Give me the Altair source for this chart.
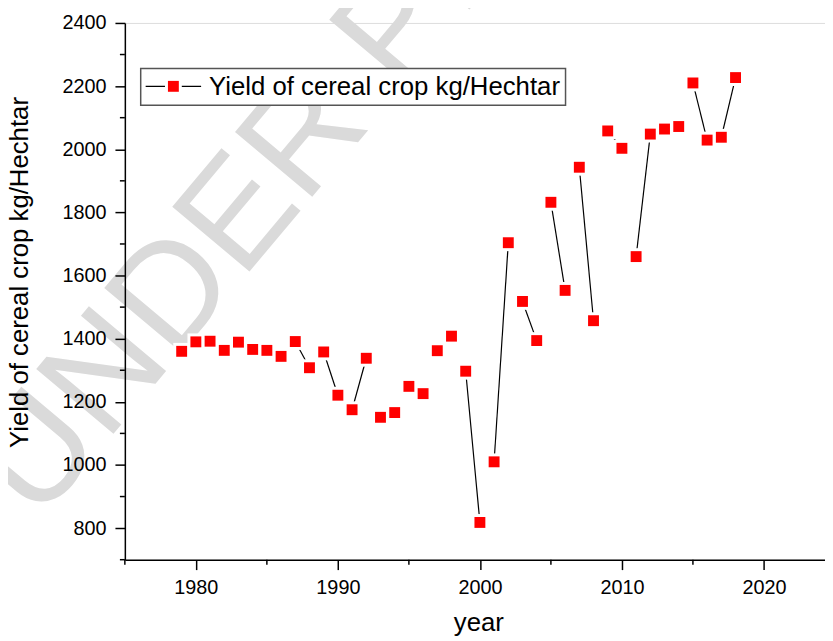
import altair as alt
import pandas as pd

years = list(range(1979, 2019))
yields = [1360, 1390, 1392, 1363, 1389, 1366, 1363, 1344, 1391, 1308,
          1358, 1221, 1175, 1338, 1151, 1166, 1249, 1226, 1362, 1408,
          1297, 818, 1010, 1704, 1518, 1394, 1832, 1553, 1943, 1457,
          2058, 2003, 1660, 2048, 2064, 2072, 2210, 2029, 2038, 2227]
# connecting segments join the points two by two (1979-1980, 1981-1982, ...)
segment = [(y - 1979) // 2 for y in years]

y_major = [800, 1000, 1200, 1400, 1600, 1800, 2000, 2200, 2400]
y_minor = [700, 900, 1100, 1300, 1500, 1700, 1900, 2100, 2300]
x_major = [1980, 1990, 2000, 2010, 2020]
x_minor = [1975, 1985, 1995, 2005, 2015]

series_name = "Yield of cereal crop kg/Hechtar"
watermark = "UNDER PEER REVIEW"

W, H = 707, 542
FONT = "Liberation Sans"

df = pd.DataFrame({"year": years, "yield": yields, "seg": segment})
xs = alt.Scale(domain=[1975, 2024.3], nice=False, zero=False)
ys = alt.Scale(domain=[700, 2400], nice=False, zero=False)

x_axis = alt.Axis(values=x_major, format="d", title="year", grid=False,
                  tickSize=10, tickWidth=1.5, tickColor="black",
                  domainColor="black", domainWidth=1.5,
                  labelFont=FONT, labelFontSize=20, labelColor="black", labelPadding=8,
                  titleFont=FONT, titleFontSize=26, titleFontWeight="normal", titleColor="black",
                  titleX=357, titleY=72, titleBaseline="alphabetic", zindex=1)
y_axis = alt.Axis(values=y_major, format="d", title=series_name, grid=False,
                  tickSize=10, tickWidth=1.5, tickColor="black",
                  domainColor="black", domainWidth=1.5,
                  labelFont=FONT, labelFontSize=20, labelColor="black", labelPadding=9,
                  titleFont=FONT, titleFontSize=26, titleFontWeight="normal", titleColor="black",
                  titleAngle=270, titleX=-98, titleY=251.5, titleAlign="center",
                  titleBaseline="alphabetic", zindex=1)

X = alt.X("year:Q", scale=xs, axis=x_axis)
Y = alt.Y("yield:Q", scale=ys, axis=y_axis)

one = pd.DataFrame({"k": [0]})

wm = alt.Chart(one).mark_text(text=watermark, font=FONT, fontSize=148,
                              color="#dadada", angle=310, align="left", baseline="alphabetic").encode(
    x=alt.value(-88), y=alt.value(506))

line = alt.Chart(df).mark_line(color="black", strokeWidth=1.2).encode(
    x=X, y=Y, detail="seg:N")
gaps = alt.Chart(df).mark_point(shape="square", filled=True, color="white", opacity=1, size=289).encode(x=X, y=Y)
pts = alt.Chart(df).mark_point(shape="square", filled=True, color="#ff0000", opacity=1, size=121).encode(x=X, y=Y)

ymin_df = pd.DataFrame({"yield": y_minor})
xmin_df = pd.DataFrame({"year": x_minor})
ymin = alt.Chart(ymin_df).mark_rule(color="black", strokeWidth=1.5).encode(
    y=Y, x=alt.value(-5), x2=alt.value(0))
xmin = alt.Chart(xmin_df).mark_rule(color="black", strokeWidth=1.5).encode(
    x=X, y=alt.value(H), y2=alt.value(H + 5))

leg_box = alt.Chart(one).mark_rect(fill="white", stroke="#555555", strokeWidth=1.5).encode(
    x=alt.value(16), x2=alt.value(445), y=alt.value(46), y2=alt.value(83))
leg_line = alt.Chart(one).mark_rule(color="black", strokeWidth=1.2).encode(
    x=alt.value(21), x2=alt.value(77), y=alt.value(64))
leg_gap = alt.Chart(one).mark_point(shape="square", filled=True, color="white", opacity=1, size=289).encode(
    x=alt.value(49), y=alt.value(64))
leg_pt = alt.Chart(one).mark_point(shape="square", filled=True, color="#ff0000", opacity=1, size=121).encode(
    x=alt.value(49), y=alt.value(64))
leg_txt = alt.Chart(one).mark_text(text=series_name, font=FONT, fontSize=26, color="black",
                                   align="left", baseline="middle").encode(
    x=alt.value(85), y=alt.value(65))

chart = alt.layer(wm, line, gaps, pts, ymin, xmin, leg_box, leg_line, leg_gap, leg_pt, leg_txt).properties(
    width=W, height=H, autosize="none",
    padding={"left": 118, "top": 12, "right": 0, "bottom": 80},
).configure_view(stroke=None).configure(background="white")

chart.save("out.html", embed_options={"renderer": "svg", "actions": False})
